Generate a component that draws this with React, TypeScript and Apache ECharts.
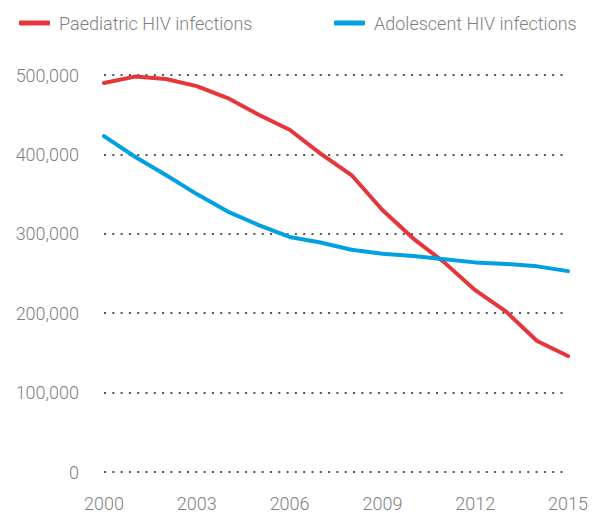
import React, { useEffect, useRef } from "react";
import * as echarts from "echarts";

const years = ["2000","2001","2002","2003","2004","2005","2006","2007","2008","2009","2010","2011","2012","2013","2014","2015"];
const paediatric = [490000, 498000, 495000, 486000, 471000, 450000, 431000, 401000, 374000, 330000, 294000, 264000, 229000, 202000, 165000, 146000];
const adolescent = [423000, 397000, 374000, 350000, 328000, 311000, 296000, 289000, 280000, 275000, 272000, 268000, 264000, 262000, 259000, 253000];
const seriesNames = ["Paediatric HIV infections", "Adolescent HIV infections"];

const FONT = "Roboto, 'Liberation Sans', sans-serif";
const TEXT = "#7f7f7f";

export default function App() {
  const ref = useRef<HTMLDivElement>(null);
  useEffect(() => {
    if (!ref.current) return;
    const chart = echarts.init(ref.current, null, { renderer: "svg" });
    const legendText = { color: TEXT, fontSize: 18, fontWeight: 300, fontFamily: FONT, padding: [0, 0, 0, 4] };
    chart.setOption({
      animation: false,
      legend: [
        {
          data: [seriesNames[0]],
          left: 14,
          top: 9,
          icon: "roundRect",
          itemWidth: 31,
          itemHeight: 5,
          textStyle: legendText,
        },
        {
          data: [seriesNames[1]],
          left: 329,
          top: 9,
          icon: "roundRect",
          itemWidth: 31,
          itemHeight: 5,
          textStyle: legendText,
        },
      ],
      grid: { left: 104, right: 31, top: 75, bottom: 41, containLabel: false },
      xAxis: {
        type: "category",
        data: years,
        boundaryGap: false,
        axisLine: { show: false },
        axisTick: { show: false },
        axisLabel: { interval: 2, color: TEXT, fontSize: 18, fontWeight: 300, fontFamily: FONT, margin: 22 },
      },
      yAxis: {
        type: "value",
        min: 0,
        max: 500000,
        interval: 100000,
        axisLine: { show: false },
        axisTick: { show: false },
        axisLabel: {
          color: TEXT,
          fontSize: 18,
          fontWeight: 300,
          fontFamily: FONT,
          margin: 25,
          formatter: (v: number) => v.toLocaleString("en-US"),
        },
        splitLine: { lineStyle: { color: "#555555", width: 2, type: [2, 6.3] } },
      },
      series: [
        {
          name: seriesNames[0],
          type: "line",
          data: paediatric,
          symbol: "none",
          color: "#e5363c",
          lineStyle: { width: 4, color: "#e5363c", cap: "round", join: "round" },
        },
        {
          name: seriesNames[1],
          type: "line",
          data: adolescent,
          symbol: "none",
          color: "#00a0e3",
          lineStyle: { width: 4, color: "#00a0e3", cap: "round", join: "round" },
        },
      ],
    });
    return () => chart.dispose();
  }, []);
  return <div ref={ref} style={{ width: 599, height: 513, position: "absolute", left: 0, top: 0 }} />;
}
